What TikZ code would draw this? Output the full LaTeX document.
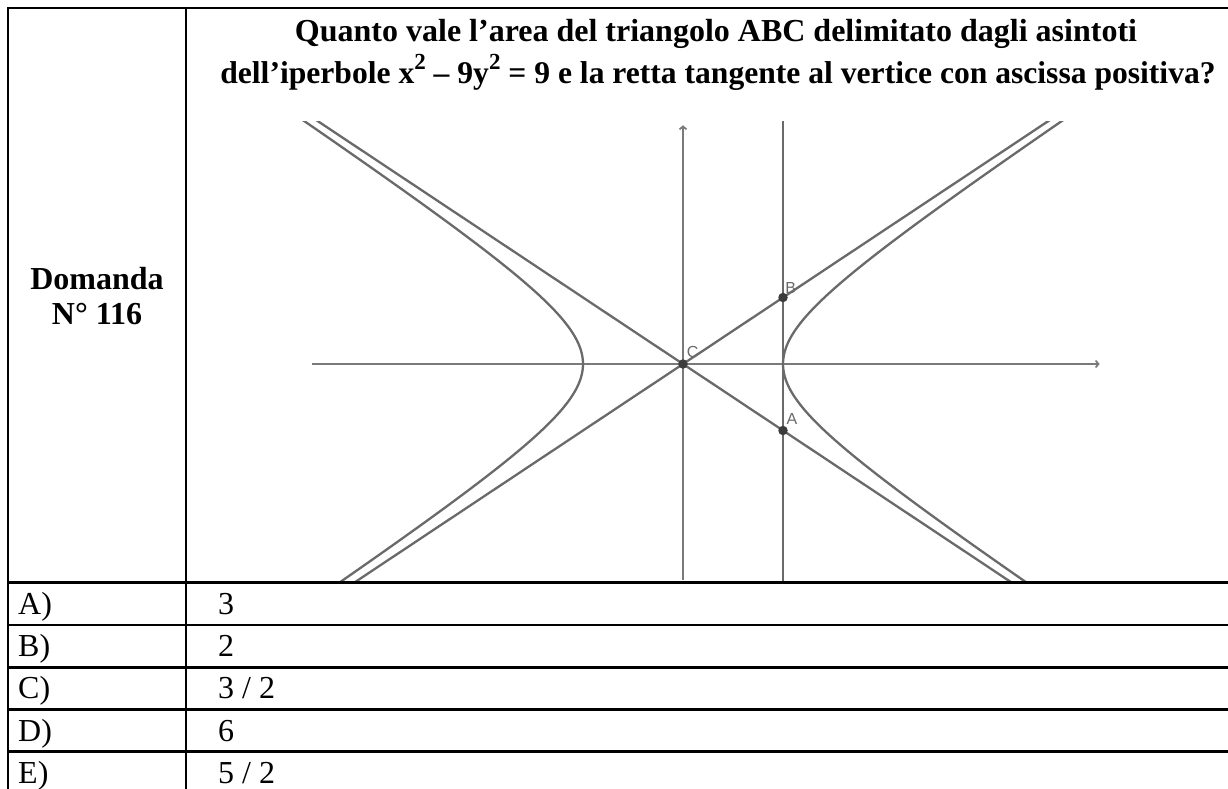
\documentclass[tikz,border=0pt]{standalone}
\usepackage{fontspec}
\setmainfont{Liberation Serif}
\newfontfamily\ggbfont{Liberation Sans}
\usetikzlibrary{arrows.meta}
\definecolor{curvegray}{HTML}{6A6A6A}
\definecolor{axisgray}{HTML}{7A7A7A}
\definecolor{ptgray}{HTML}{3C3C3C}
\newcommand{\supr}[1]{\raisebox{0.42em}{\fontsize{23}{23}\selectfont #1}}
\tikzset{
  tableline/.style={line width=2.8pt, black},
  titletext/.style={font=\fontsize{32}{36}\selectfont\bfseries, anchor=base, inner sep=0pt},
  titletextb/.style={font=\fontsize{31.6}{36}\selectfont\bfseries, anchor=base, inner sep=0pt},
  celltext/.style={font=\fontsize{32}{36}\selectfont, anchor=base west, inner sep=0pt},
  curve/.style={line width=2.3pt, curvegray},
  axisline/.style={line width=1.7pt, axisgray},
  pt/.style={circle, fill=ptgray, inner sep=0pt, minimum size=9.5pt},
  ptlabel/.style={font=\ggbfont\fontsize{16}{16}\selectfont, text=curvegray, inner sep=0pt}
}
\begin{document}
\begin{tikzpicture}[x=1pt,y=-1pt]
\useasboundingbox[fill=white] (0,0) rectangle (1228,788);
% table grid
\draw[tableline] (8,8) rectangle (1240,800);
\draw[tableline] (186,8) -- (186,800);
\foreach \yy in {582.7,625,667.7,709.5,751.7}
  \draw[tableline] (8,\yy) -- (1240,\yy);
% title
\node[titletext] (q1) at (716,41) {Quanto vale l’area del triangolo ABC delimitato dagli asintoti};
\node[titletextb] (q2) at (718,83) {dell’iperbole x\supr{2} – 9y\supr{2} = 9 e la retta tangente al vertice con ascissa positiva?};
\node[titletext] (d1) at (97,289) {Domanda};
\node[titletext] (d2) at (97,324) {N° 116};
% answers
\node[celltext] (la) at (18,614.3) {A)};
\node[celltext] (lb) at (18,656.6) {B)};
\node[celltext] (lc) at (18,698.9) {C)};
\node[celltext] (ld) at (18,741.2) {D)};
\node[celltext] (le) at (18,783.5) {E)};
\node[celltext] (va) at (218,614.3) {3};
\node[celltext] (vb) at (218,656.6) {2};
\node[celltext] (vc) at (218,698.9) {3 / 2};
\node[celltext] (vd) at (218,741.2) {6};
\node[celltext] (ve) at (218,783.5) {5 / 2};
% graph
\begin{scope}[shift={(683,364)}, x=33.333pt, y=66.5pt]
  \coordinate (O) at (0,0);
  \coordinate (xstart) at (-11.13,0);
  \coordinate (xend) at (12.5,0);
  \coordinate (ybot) at (0,-3.25);
  \coordinate (ytop) at (0,3.59);
  \draw[axisline, -{Straight Barb[length=3pt,width=7pt]}] (xstart) -- (xend);
  \draw[axisline, -{Straight Barb[length=3pt,width=7pt]}] (ybot) -- (ytop);
  \begin{scope}
    \clip (-12,-3.25) rectangle (13,3.64);
    \draw[curve] (-12,-4) -- (12,4);
    \draw[curve] (-12,4) -- (12,-4);
    \draw[curve] plot[domain=-2.2:2.2, samples=120, variable=\t] ({3*cosh(\t)},{sinh(\t)});
    \draw[curve] plot[domain=-2.2:2.2, samples=120, variable=\t] ({-3*cosh(\t)},{sinh(\t)});
    \draw[curve] (3,-3.4) -- (3,3.8);
  \end{scope}
  \node[pt] (C) at (0,0) {};
  \node[pt] (B) at (3,1) {};
  \node[pt] (A) at (3,-1) {};
\end{scope}
\node[ptlabel] (lC) at (692.7,351.7) {C};
\node[ptlabel] (lB) at (790.7,287.7) {B};
\node[ptlabel] (lA) at (792,419) {A};
\end{tikzpicture}
\end{document}
